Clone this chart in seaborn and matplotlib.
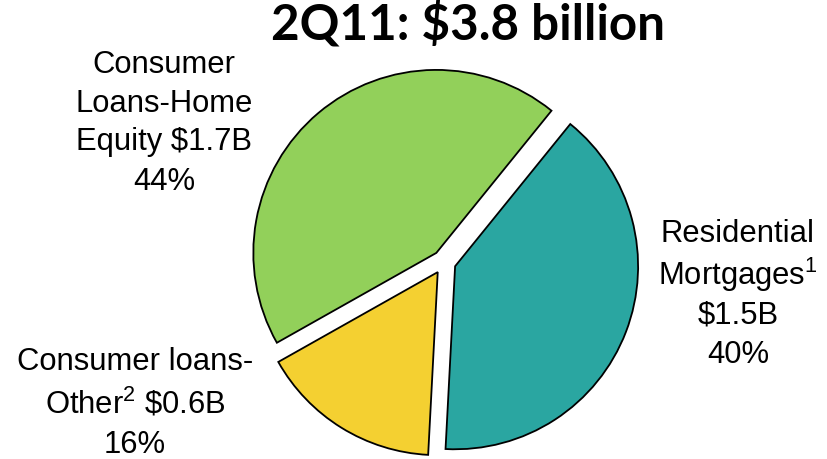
import matplotlib
matplotlib.use("Agg")
import matplotlib.pyplot as plt
import seaborn as sns

# Portfolio composition, 2Q11 (total $3.8 billion)
segments = ["Residential Mortgages", "Consumer loans-Other", "Consumer Loans-Home Equity"]
amounts_bn = [1.5, 0.6, 1.7]
shares_pct = [40, 16, 44]
colors = ["#2AA6A1", "#F4D031", "#92D05A"]

title = "2Q11: $3.8 billion"
label_lines = {
    "Residential Mortgages": ["Residential", "Mortgages$^1$", "$1.5B", "40%"],
    "Consumer loans-Other": ["Consumer loans-", "Other$^2$ \\$0.6B", "16%"],
    "Consumer Loans-Home Equity": ["Consumer", "Loans-Home", "Equity $1.7B", "44%"],
}

sns.set_theme(style="white")
plt.rcParams["font.family"] = ["Liberation Sans", "DejaVu Sans"]
plt.rcParams["mathtext.default"] = "regular"

W, H = 828, 459
fig = plt.figure(figsize=(W / 100, H / 100), dpi=100)
fig.patch.set_facecolor("white")

# square axes centred on the pie (pixel box 460x460 around centre 444,262)
cx, cy, half, r_px = 444, 262, 230, 183
ax = fig.add_axes([(cx - half) / W, (H - cy - half) / H, 2 * half / W, 2 * half / H])
lim = half / r_px
ax.pie(
    shares_pct,
    colors=colors,
    startangle=51,
    counterclock=False,
    explode=[0.065] * len(shares_pct),
    wedgeprops=dict(edgecolor="black", linewidth=1.3),
)
ax.set_xlim(-lim, lim)
ax.set_ylim(-lim, lim)
ax.set_aspect("equal")
ax.axis("off")

# category labels, one line at a time (x centre, baselines in pixels)
label_pos = {
    "Residential Mortgages": (738, [242, 285, 323, 363]),
    "Consumer loans-Other": (135, [370, 413, 453]),
    "Consumer Loans-Home Equity": (164, [73, 112, 150, 190]),
}
for seg in segments:
    x, ys = label_pos[seg]
    for line, y in zip(label_lines[seg], ys):
        fig.text(x / W, 1 - y / H, line, ha="center", va="baseline",
                 fontsize=22.3, color="black")

# title, sized to its measured width
t = fig.text(468.5 / W, 1 - 40 / H, title, ha="center", va="baseline",
             fontsize=28, fontweight="bold", family=["Lato", "DejaVu Sans"], color="black")
fig.canvas.draw()
w = t.get_window_extent().width
t.set_fontsize(28 * 393 / w)

fig.savefig("out.png", dpi=100, facecolor="white")
